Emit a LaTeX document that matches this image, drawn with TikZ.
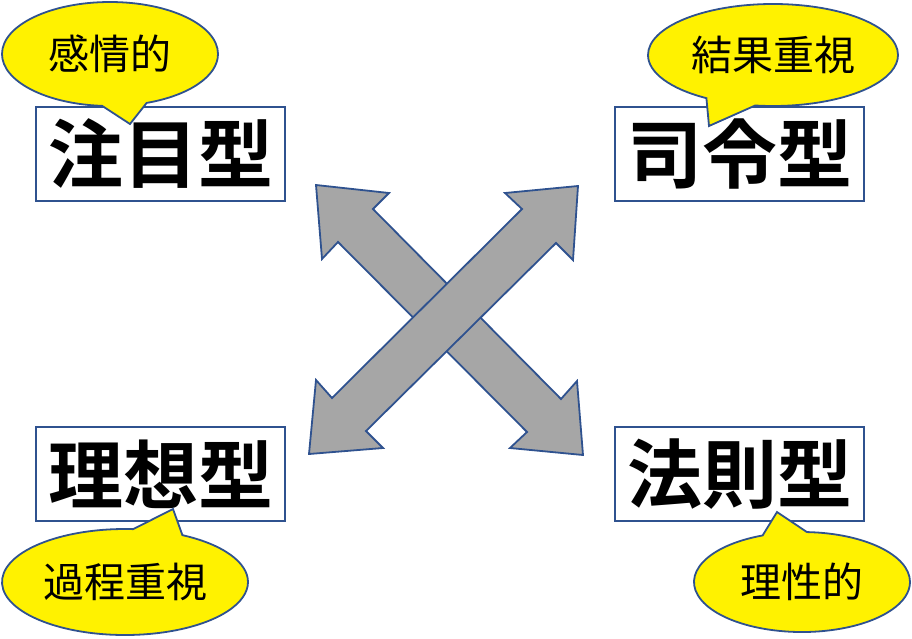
\documentclass[tikz,border=0pt]{standalone}
\usepackage{fontspec}
\newfontfamily\jpfont{Noto Sans CJK JP}[BoldFont={Noto Sans CJK JP Bold}]
\usetikzlibrary{shapes.callouts}
\definecolor{edgeblue}{RGB}{47,82,143}
\definecolor{arrowgray}{RGB}{166,166,166}

\begin{document}
\begin{tikzpicture}[x=1pt,y=-1pt,
		typebox/.style={draw=edgeblue, line width=1.8pt, fill=white, minimum width=249pt, minimum height=94pt, inner sep=0pt, font=\jpfont\bfseries\fontsize{75}{75}\selectfont},
		bubble/.style={ellipse callout, draw=edgeblue, line width=1.8pt, fill=yellow, inner sep=0pt, callout pointer arc=24, font=\jpfont\fontsize{41}{41}\selectfont},
		bigarrow/.style={draw=edgeblue, line width=1.8pt, fill=arrowgray, line join=miter}]
		\useasboundingbox (0,0) rectangle (912,638);
		
		% crossed arrows
		\draw [bigarrow] (316,185) -- (389,193) -- (373,209) -- (561,399) -- (577,381) -- (583,455)
		-- (510,448) -- (527,432) -- (338,242) -- (322,259) -- cycle;
		\draw [bigarrow] (578,186) -- (573,260) -- (556,243) -- (366,431) -- (383,448) -- (309,454)
		-- (316,380) -- (332,398) -- (522,209) -- (505,193) -- cycle;
		
		% the four types
		\node [typebox] (chumoku) at (160.5,154) {注目型};
		\node [typebox] (shirei) at (739.5,154) {司令型};
		\node [typebox] (riso) at (160.5,474) {理想型};
		\node [typebox] (hosoku) at (739.5,474) {法則型};
		
		% speech bubbles
		\node [bubble, minimum width=216pt, minimum height=104pt, callout absolute pointer={(130,124)}] (kanjo) at (110,54) {感情的};
		\node [bubble, minimum width=250pt, minimum height=102pt, callout absolute pointer={(709,126)}] (kekka) at (773,55) {結果重視};
		\node [bubble, minimum width=246pt, minimum height=106pt, callout absolute pointer={(173,509)}] (katei) at (125,582) {過程重視};
		\node [bubble, minimum width=216pt, minimum height=100pt, callout absolute pointer={(777,512)}] (risei) at (802,582) {理性的};
\end{tikzpicture}
\end{document}
